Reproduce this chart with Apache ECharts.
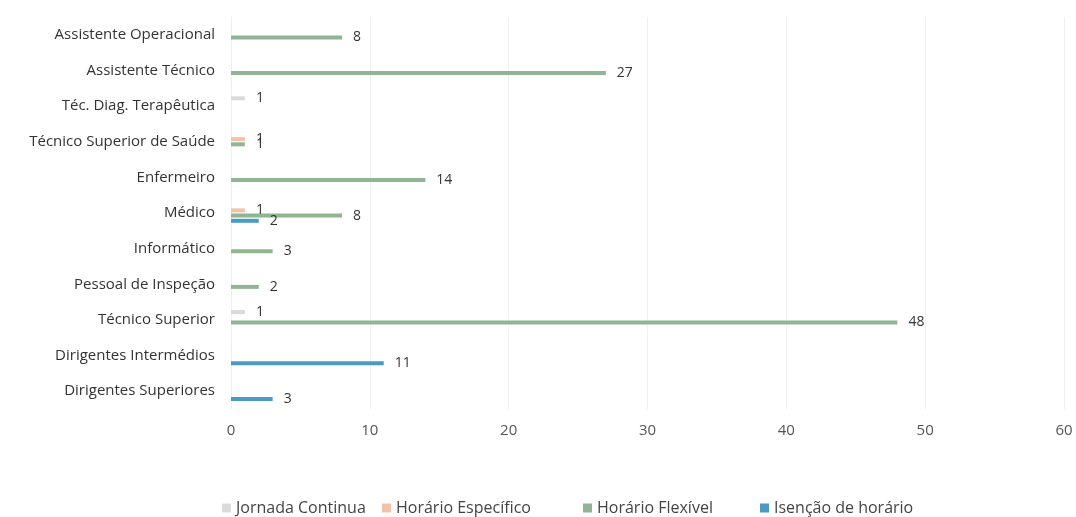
<!DOCTYPE html>
<html>
<head>
<meta charset="utf-8">
<script src="https://cdn.jsdelivr.net/npm/echarts@6/dist/echarts.min.js"></script>
<style>
  html, body { margin: 0; padding: 0; background: #ffffff; }
  #chart { width: 1076px; height: 517px; }
</style>
</head>
<body>
<div id="chart"></div>
<script>
// Job categories, listed top to bottom
const categories = [
  'Assistente Operacional',
  'Assistente Técnico',
  'Téc. Diag. Terapêutica',
  'Técnico Superior de Saúde',
  'Enfermeiro',
  'Médico',
  'Informático',
  'Pessoal de Inspeção',
  'Técnico Superior',
  'Dirigentes Intermédios',
  'Dirigentes Superiores'
];

// Working-time regimes (series names)
const regimes = ['Jornada Continua', 'Horário Específico', 'Horário Flexível', 'Isenção de horário'];

// Staff counts per working-time regime (null = none)
const jornadaContinua   = [null, null, 1, null, null, null, null, null, 1, null, null];
const horarioEspecifico = [null, null, null, 1, null, 1, null, null, null, null, null];
const horarioFlexivel   = [8, 27, null, 1, 14, 8, 3, 2, 48, null, null];
const isencaoHorario    = [null, null, null, null, null, 2, null, null, null, 11, 3];

const xTicks = { min: 0, max: 60, interval: 10 };

const chart = echarts.init(document.getElementById('chart'), null, { renderer: 'canvas' });

const FONT = '"Open Sans", "Noto Sans", sans-serif';
const colors = ['#dadada', '#f3c2a8', '#8fb592', '#4a9bc4'];

function barSeries(name, data, color) {
  return {
    name: name,
    type: 'bar',
    data: data,
    barWidth: 4,
    barGap: '30%',
    itemStyle: { color: color },
    label: {
      show: true,
      position: 'right',
      distance: 11,
      fontFamily: FONT,
      fontSize: 14,
      color: '#333333'
    }
  };
}

// One legend block per regime so each entry sits at its own spot along the bottom
const legendLefts = [217, 377, 578, 755];
const legends = regimes.map(function (name, i) {
  return {
    top: 495,
    left: legendLefts[i],
    itemWidth: 9,
    itemHeight: 9,
    itemGap: 6,
    icon: 'rect',
    selectedMode: false,
    textStyle: { fontFamily: FONT, fontSize: 16, color: '#444444' },
    data: [name]
  };
});

chart.setOption({
  backgroundColor: '#ffffff',
  animation: false,
  grid: { left: 231, right: 12, top: 17, height: 392, containLabel: false },
  legend: legends,
  xAxis: {
    type: 'value',
    min: xTicks.min,
    max: xTicks.max,
    interval: xTicks.interval,
    axisLine: { show: false },
    axisTick: { show: false },
    axisLabel: { fontFamily: FONT, fontSize: 15, color: '#555555', margin: 14 },
    splitLine: { show: true, lineStyle: { color: '#f0f0f0', width: 1 } }
  },
  yAxis: {
    type: 'category',
    inverse: true,
    data: categories,
    axisLine: { show: true, lineStyle: { color: '#eeeeee' } },
    axisTick: { show: false },
    axisLabel: { fontFamily: FONT, fontSize: 15, color: '#333333', margin: 16 }
  },
  series: [
    barSeries(regimes[0], jornadaContinua, colors[0]),
    barSeries(regimes[1], horarioEspecifico, colors[1]),
    barSeries(regimes[2], horarioFlexivel, colors[2]),
    barSeries(regimes[3], isencaoHorario, colors[3])
  ]
});
</script>
</body>
</html>
